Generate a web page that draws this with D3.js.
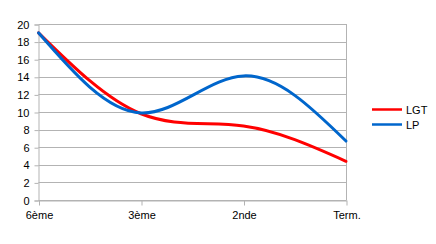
<!DOCTYPE html>
<html><head><meta charset="utf-8">
<script src="https://cdn.jsdelivr.net/npm/d3@7"></script>
<style>body{margin:0;background:#fff}svg{display:block}text{font-family:"Liberation Sans",Arial,sans-serif;font-size:11px;fill:#000}</style>
</head><body>
<script>
const categories = ["6ème", "3ème", "2nde", "Term."];
const lgt = [19, 9.8, 8.4, 4.4];
const lp = [19, 9.9, 14.1, 6.7];
const yTicks = [0, 2, 4, 6, 8, 10, 12, 14, 16, 18, 20];
const seriesNames = ["LGT", "LP"];
const seriesColors = ["#ff0000", "#0066cc"];

const W = 436, H = 244;
const svg = d3.select("body").append("svg").attr("width", W).attr("height", H);
const x = d3.scalePoint().domain(categories).range([38.5, 346]);
const y = d3.scaleLinear().domain([0, 20]).range([200, 24]);
const grid = "#b3b3b3";

// horizontal grid
svg.append("g").selectAll("line").data(yTicks).join("line")
  .attr("x1", 38.5).attr("x2", 346.5)
  .attr("y1", d => Math.round(y(d)) + 0.5).attr("y2", d => Math.round(y(d)) + 0.5)
  .attr("stroke", grid);
// right border
svg.append("line").attr("x1", 346.5).attr("x2", 346.5).attr("y1", y(20)).attr("y2", y(0))
  .attr("stroke", grid);

// y axis
const ya = svg.append("g").attr("transform", "translate(38.5,0.5)")
  .call(d3.axisLeft(y).tickValues(yTicks).tickSize(4).tickPadding(5));
ya.select(".domain").attr("stroke", grid);
ya.selectAll(".tick line").attr("stroke", grid);
ya.selectAll(".tick text").attr("font-family", null).attr("font-size", null);
ya.attr("font-family", null).attr("font-size", null);

// x axis
const xa = svg.append("g").attr("transform", "translate(0.5,200.5)")
  .call(d3.axisBottom(x).tickSize(5).tickPadding(6).tickSizeOuter(0));
xa.select(".domain").attr("stroke", grid);
xa.selectAll(".tick line").attr("stroke", grid);
xa.attr("font-family", null).attr("font-size", null);

// lines
const line = d3.line().x((d, i) => x(categories[i])).y(d => y(d)).curve(d3.curveNatural);
[lgt, lp].forEach((s, k) => {
  svg.append("path").attr("d", line(s)).attr("fill", "none")
    .attr("stroke", seriesColors[k]).attr("stroke-width", 3).attr("stroke-linecap", "round");
});

// legend
const lg = svg.append("g");
seriesNames.forEach((n, k) => {
  const yy = 109.5 + k * 15;
  lg.append("line").attr("x1", 372).attr("x2", 402).attr("y1", yy).attr("y2", yy)
    .attr("stroke", seriesColors[k]).attr("stroke-width", 2.5);
  lg.append("text").attr("x", 406).attr("y", yy + 4).text(n);
});
</script>
</body></html>
